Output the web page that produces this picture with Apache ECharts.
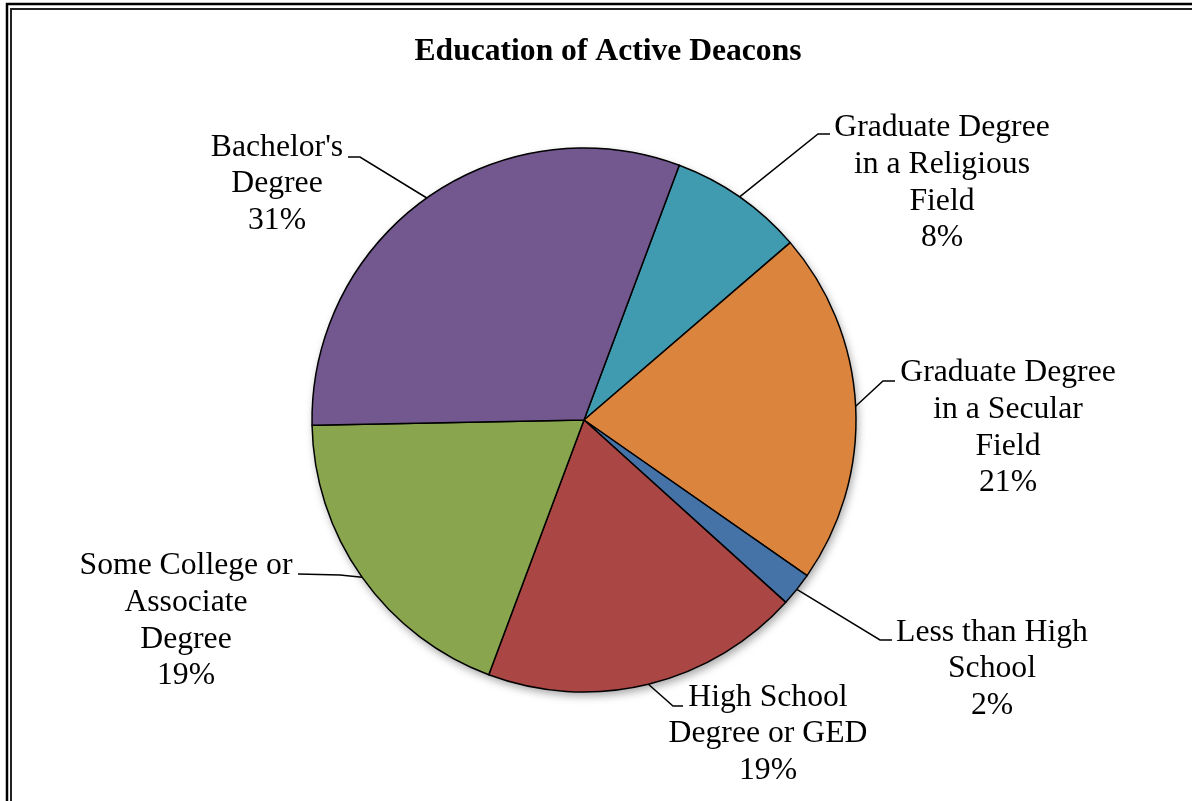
<!DOCTYPE html>
<html>
<head>
<meta charset="utf-8">
<script src="https://cdn.jsdelivr.net/npm/echarts@6/dist/echarts.min.js"></script>
<style>
  html, body { margin: 0; padding: 0; background: #fff; }
  #chart { width: 1192px; height: 801px; }
</style>
</head>
<body>
<div id="chart"></div>
<script>
// Data (clockwise from the top)
const categories = [
  'Graduate Degree\nin a Religious\nField',
  'Graduate Degree\nin a Secular\nField',
  'Less than High\nSchool',
  'High School\nDegree or GED',
  'Some College or\nAssociate\nDegree',
  "Bachelor's\nDegree"
];
const shares = [8, 21, 2, 19, 19, 31];
const colors = ['#419BB0', '#DB843D', '#4572A7', '#AA4643', '#89A54E', '#72588F'];

// Label placement: text centre, leader elbow, leader end
const labelCenters = [[942, 183], [1008, 428], [992, 669], [768, 734], [186, 621], [277, 184]];
const leaderElbows = [[818, 134], [883, 381], [880, 640], [673, 706], [340, 575], [360, 157]];
const leaderEnds = [[830, 134], [895, 381], [892, 640], [683, 706], [298, 574], [348, 157]];

const font = '"Liberation Serif", "Times New Roman", serif';
const chart = echarts.init(document.getElementById('chart'));

chart.setOption({
  backgroundColor: '#fff',
  animation: false,
  title: {
    text: 'Education of Active Deacons',
    left: 603,
    top: 31,
    textAlign: 'center',
    textStyle: { fontFamily: font, fontSize: 31.6, fontWeight: 'bold', color: '#000' }
  },
  graphic: [
    { type: 'rect', shape: { x: 7, y: 4, width: 1400, height: 1000 },
      style: { fill: null, stroke: '#000', lineWidth: 2.5 }, silent: true },
    { type: 'rect', shape: { x: 11, y: 9, width: 1400, height: 1000 },
      style: { fill: null, stroke: '#222', lineWidth: 2 }, silent: true }
  ],
  series: [
    {
      // soft drop shadow under the whole pie
      type: 'pie',
      silent: true,
      z: 1,
      center: [584, 420],
      radius: 272,
      label: { show: false },
      labelLine: { show: false },
      itemStyle: {
        color: '#fff',
        shadowBlur: 8,
        shadowOffsetX: 2,
        shadowOffsetY: 4,
        shadowColor: 'rgba(0,0,0,0.35)'
      },
      data: [{ value: shares.reduce((a, b) => a + b, 0), name: '' }]
    },
    {
      type: 'pie',
      z: 2,
      center: [584, 420],
      radius: 272,
      startAngle: 69.5,
      clockwise: true,
      avoidLabelOverlap: false,
      data: categories.map((c, i) => ({
        name: c,
        value: shares[i],
        itemStyle: { color: colors[i] }
      })),
      itemStyle: { borderColor: '#000', borderWidth: 1.5 },
      label: {
        show: true,
        position: 'outside',
        fontFamily: font,
        fontSize: 31.7,
        lineHeight: 36.6,
        color: '#000',
        align: 'center',
        formatter: p => p.name + '\n' + p.value + '%'
      },
      labelLine: {
        show: true,
        length: 20,
        length2: 20,
        lineStyle: { color: '#000', width: 1.5 }
      },
      labelLayout: function (params) {
        const i = params.dataIndex;
        const start = params.labelLinePoints ? params.labelLinePoints[0] : leaderElbows[i];
        return {
          x: labelCenters[i][0],
          y: labelCenters[i][1],
          align: 'center',
          verticalAlign: 'middle',
          labelLinePoints: [start, leaderElbows[i], leaderEnds[i]]
        };
      }
    }
  ]
});
</script>
</body>
</html>
